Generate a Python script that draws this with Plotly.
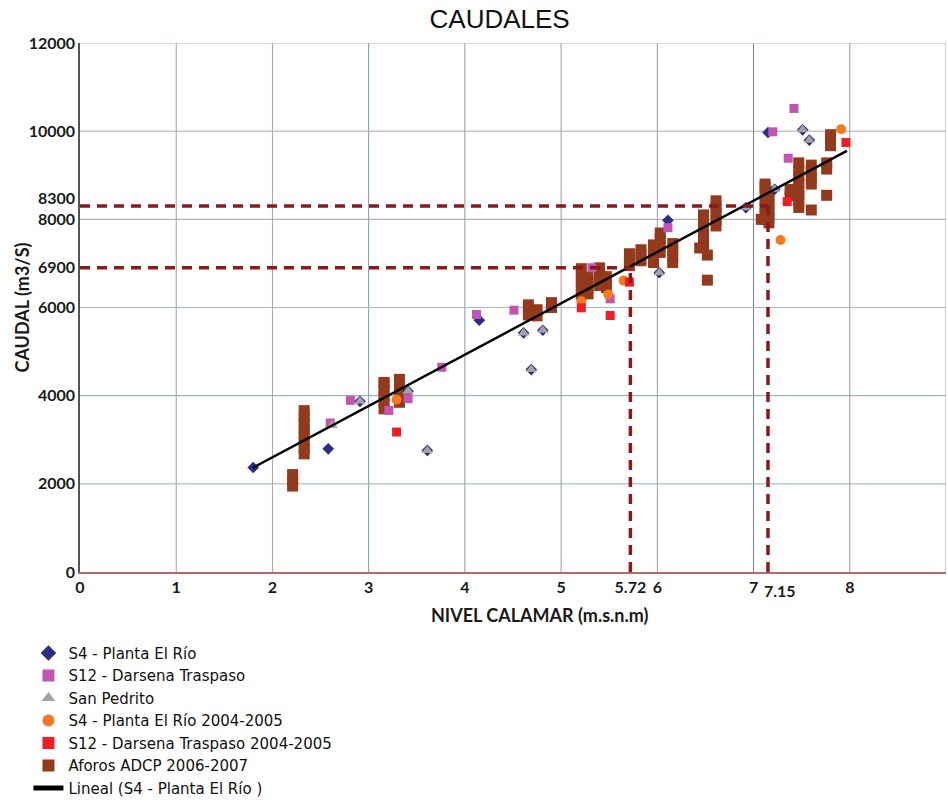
import plotly.graph_objects as go

# S4 - Planta El Río
s4_x = [1.80, 2.58, 4.15, 6.11, 7.15, 2.91, 3.41, 3.61, 4.61, 4.81, 4.69, 6.02, 6.92, 7.22, 7.51, 7.58]
s4_y = [2370, 2795, 5712, 7977, 9970, 3871, 4098, 2757, 5424, 5484, 4591, 6788, 8265, 8682, 10030, 9795]

# S12 - Darsena Traspaso
s12_x = [2.60, 2.81, 3.21, 3.41, 3.76, 4.12, 4.51, 5.32, 5.51, 6.11, 7.20, 7.42, 7.36]
s12_y = [3380, 3894, 3666, 3932, 4644, 5841, 5939, 6902, 6197, 7811, 9985, 10515, 9386]

# San Pedrito
sp_x = [2.62, 2.91, 3.41, 3.61, 4.61, 4.81, 4.69, 6.02, 6.92, 7.22, 7.51, 7.58]
sp_y = [3330, 3871, 4098, 2757, 5424, 5484, 4591, 6788, 8265, 8682, 10030, 9795]

# S4 - Planta El Río 2004-2005
s4_old_x = [3.29, 5.21, 5.49, 5.65, 7.28, 7.91]
s4_old_y = [3909, 6144, 6295, 6610, 7530, 10045]

# S12 - Darsena Traspaso 2004-2005
s12_old_x = [3.29, 5.21, 5.51, 5.71, 7.35, 7.96]
s12_old_y = [3175, 5992, 5818, 6576, 8402, 9742]

# Aforos ADCP 2006-2007 (stacked measurements)
adcp_x = [2.21, 2.21, 2.21,
          2.33, 2.33, 2.33, 2.33, 2.33, 2.33, 2.33, 2.33,
          3.16, 3.16, 3.16, 3.16, 3.16, 3.16,
          3.32, 3.32, 3.32, 3.32,
          4.66, 4.66, 4.66, 4.75, 4.75, 4.90, 4.90,
          5.21, 5.21, 5.21, 5.21, 5.21, 5.28, 5.28, 5.28, 5.28,
          5.40, 5.40, 5.40, 5.40, 5.47, 5.47, 5.47,
          5.71, 5.71, 5.71, 5.83, 5.83, 5.83,
          5.96, 5.96, 5.96, 5.96, 6.03, 6.03, 6.03, 6.03,
          6.16, 6.16, 6.16, 6.16,
          6.48, 6.48, 6.48, 6.48, 6.48, 6.48, 6.44, 6.61, 6.61, 6.61, 6.61, 6.61,
          6.52, 6.52,
          7.08, 7.12, 7.12, 7.12, 7.12, 7.12, 7.12, 7.12,
          7.16, 7.16, 7.16, 7.16, 7.16, 7.16,
          7.38, 7.38,
          7.47, 7.47, 7.47, 7.47, 7.47, 7.47, 7.47, 7.47,
          7.60, 7.60, 7.60, 7.60, 7.60,
          7.76, 7.76, 7.76,
          7.80, 7.80, 7.80]
adcp_y = [1950, 2080, 2210,
          2680, 2820, 2960, 3100, 3240, 3380, 3520, 3660,
          3700, 3840, 3980, 4120, 4260, 4300,
          3850, 4000, 4150, 4370,
          5830, 5950, 6060, 5810, 5950, 6000, 6110,
          6300, 6440, 6580, 6720, 6880, 6310, 6450, 6580, 6680,
          6500, 6640, 6800, 6900, 6450, 6580, 6700,
          6950, 7080, 7220, 7060, 7200, 7310,
          7020, 7160, 7300, 7420, 7250, 7400, 7550, 7690,
          7020, 7160, 7300, 7450,
          7400, 7540, 7680, 7820, 7960, 8100, 7350, 7850, 7990, 8130, 8270, 8420,
          7189, 6621,
          8000, 8000, 8140, 8280, 8420, 8560, 8720, 8800,
          7920, 8060, 8200, 8340, 8480, 8620,
          8530, 8680,
          8270, 8410, 8550, 8690, 8830, 8970, 9110, 9280,
          8800, 8940, 9080, 9230, 8212,
          9140, 9280, 8545,
          9670, 9800, 9920]

# Lineal (S4 - Planta El Río) end points
lineal_x = [1.80, 7.97]
lineal_y = [2370, 9553]

# reference levels
nivel_ref = [5.72, 7.15]
caudal_ref = [6900, 8300]

x_ticks = [0, 1, 2, 3, 4, 5, 5.72, 6, 7, 8, 9]
y_ticks = [0, 2000, 4000, 6000, 6900, 8000, 10000, 12000]

fig = go.Figure()

fig.add_trace(go.Scatter(
    x=adcp_x, y=adcp_y, mode='markers', name='Aforos ADCP 2006-2007',
    marker=dict(symbol='square', size=11, color='#93391c'), legendrank=6
))
fig.add_trace(go.Scatter(
    x=s4_x, y=s4_y, mode='markers', name='S4 - Planta El Río',
    marker=dict(symbol='diamond', size=9, color='#2b2e87'), legendrank=1
))
fig.add_trace(go.Scatter(
    x=s12_x, y=s12_y, mode='markers', name='S12 - Darsena Traspaso',
    marker=dict(symbol='square', size=9, color='#c254b4'), legendrank=2
))
fig.add_trace(go.Scatter(
    x=sp_x, y=sp_y, mode='markers', name='San Pedrito',
    marker=dict(symbol='triangle-up', size=10, color='#a3a3a3'), legendrank=3
))
fig.add_trace(go.Scatter(
    x=s4_old_x, y=s4_old_y, mode='markers', name='S4 - Planta El Río 2004-2005',
    marker=dict(symbol='circle', size=10, color='#f47a20'), legendrank=4
))
fig.add_trace(go.Scatter(
    x=s12_old_x, y=s12_old_y, mode='markers', name='S12 - Darsena Traspaso 2004-2005',
    marker=dict(symbol='square', size=9, color='#f01e24'), legendrank=5
))
fig.add_trace(go.Scatter(
    x=lineal_x, y=lineal_y, mode='lines', name='Lineal (S4 - Planta El Río )',
    line=dict(color='black', width=2.5), legendrank=7
))

# grid lines, each with its own tint like the scanned original
v_colors = ['#8aa7ad', '#b89c9c', '#6c9fa8', '#7f9ea6', '#ab9696', '#9c9c9c', '#6f818c', '#b08f8f', '#b7a2a2']
for v, c in zip(range(1, 10), v_colors):
    fig.add_shape(type='line', x0=v, x1=v, y0=0, y1=12000, layer='below',
                  line=dict(color=c, width=1))
h_colors = ['#93b7bc', '#7fa6ad', '#a3babe', '#a2a2a2', '#ababab', '#c9aaaa']
for h, c in zip(range(2000, 12001, 2000), h_colors):
    fig.add_shape(type='line', x0=0, x1=9, y0=h, y1=h, layer='below',
                  line=dict(color=c, width=1))

# dashed reference lines
for nx, cy in zip(nivel_ref, caudal_ref):
    fig.add_shape(type='line', x0=0, x1=nx, y0=cy, y1=cy,
                  line=dict(color='#8b1a1a', width=3.5, dash='10px,7px'))
    fig.add_shape(type='line', x0=nx, x1=nx, y0=0, y1=cy,
                  line=dict(color='#8b1a1a', width=3.5, dash='10px,7px'))

bold = dict(family='Lato, Open Sans, sans-serif', size=16, color='#1a1a1a', weight='bold')
title_font = dict(family='Lato, Open Sans, sans-serif', size=18, color='#1a1a1a', weight='bold')

# 7.15 / 8300 labels sit a little off their ticks in the original, so they are annotations
fig.add_annotation(x=7.15, y=0, xref='x', yref='y', text='7.15', showarrow=False,
                   yshift=-18, xshift=12, font=bold)
fig.add_annotation(x=0, y=8300, xref='x', yref='y', text='8300', showarrow=False,
                   xanchor='right', xshift=-3, yshift=9, font=bold)
fig.add_annotation(x=0.531, y=-0.082, xref='paper', yref='paper', text='NIVEL CALAMAR (m.s.n.m)',
                   xanchor='center', yanchor='middle', showarrow=False, font=title_font)
fig.add_annotation(x=-0.067, y=0.5, xref='paper', yref='paper', text='CAUDAL (m3/S)',
                   xanchor='center', yanchor='middle', textangle=-90, showarrow=False,
                   font=title_font)

fig.update_layout(
    width=948, height=803,
    margin=dict(l=80, r=2, t=43, b=231, autoexpand=False),
    paper_bgcolor='white', plot_bgcolor='white',
    title=dict(text='CAUDALES', x=0.527, xanchor='center', y=0.977, yanchor='middle',
               font=dict(family='Liberation Sans, Arial', size=26, color='#111111')),
    xaxis=dict(range=[0, 9], showgrid=False, zeroline=False, tickangle=0,
               tickvals=x_ticks, ticktext=[str(t) for t in x_ticks], ticks='',
               showline=True, linecolor='#b06a6a', linewidth=1.5, tickfont=bold),
    yaxis=dict(range=[0, 12000], showgrid=False, zeroline=False,
               tickvals=y_ticks, ticktext=[str(t) for t in y_ticks], ticks='',
               showline=True, linecolor='#555555', linewidth=1.5, tickfont=bold),
    legend=dict(xref='container', yref='container', x=0.03, y=0.207,
                xanchor='left', yanchor='top',
                font=dict(family='DejaVu Sans', size=15, color='#111111'),
                bgcolor='rgba(0,0,0,0)', tracegroupgap=0, itemsizing='constant'),
    showlegend=True
)

# drop the default body margin so the figure sits at the page corner
fig.write_html("out.html", config={'displayModeBar': False},
               post_script="document.body.style.margin='0';")
